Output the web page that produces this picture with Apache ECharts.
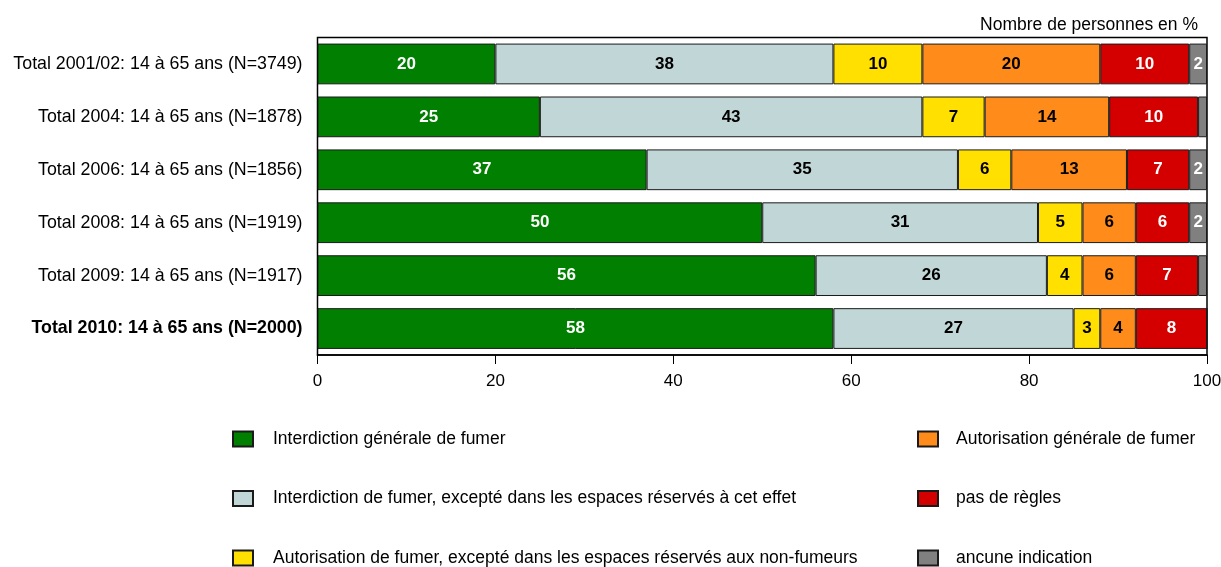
<!DOCTYPE html>
<html>
<head>
<meta charset="utf-8">
<script src="https://cdn.jsdelivr.net/npm/echarts@6/dist/echarts.min.js"></script>
<style>html,body{margin:0;padding:0;background:#fff;}#c{width:1221px;height:567px;}</style>
</head>
<body>
<div id="c"></div>
<script>
const categories = [
  "Total 2001/02: 14 à 65 ans (N=3749)",
  "Total 2004: 14 à 65 ans (N=1878)",
  "Total 2006: 14 à 65 ans (N=1856)",
  "Total 2008: 14 à 65 ans (N=1919)",
  "Total 2009: 14 à 65 ans (N=1917)",
  "Total 2010: 14 à 65 ans (N=2000)"
];
const seriesNames = [
  "Interdiction générale de fumer",
  "Interdiction de fumer, excepté dans les espaces réservés à cet effet",
  "Autorisation de fumer, excepté dans les espaces réservés aux non-fumeurs",
  "Autorisation générale de fumer",
  "pas de règles",
  "ancune indication"
];
const interdictionGenerale = [20, 25, 37, 50, 56, 58];
const interdictionExcepte = [38, 43, 35, 31, 26, 27];
const autorisationExcepte = [10, 7, 6, 5, 4, 3];
const autorisationGenerale = [20, 14, 13, 6, 6, 4];
const pasDeRegles = [10, 10, 7, 6, 7, 8];
const aucuneIndication = [2, 1, 2, 2, 1, 0];
const xTicks = [0, 20, 40, 60, 80, 100];

const values = [interdictionGenerale, interdictionExcepte, autorisationExcepte, autorisationGenerale, pasDeRegles, aucuneIndication];
const colors = ["#007f00", "#c1d7d7", "#ffe000", "#ff8c1a", "#d40000", "#808080"];
const labelColors = ["#fff", "#000", "#000", "#000", "#fff", "#fff"];
const FONT = "'Liberation Sans', Arial, sans-serif";
const FS = 17.5;
const FS_CAT = 17.8;

const chart = echarts.init(document.getElementById('c'));
const series = values.map((v, i) => ({
  name: seriesNames[i],
  type: 'bar',
  stack: 'total',
  data: v,
  barWidth: '77%',
  itemStyle: { color: colors[i], borderColor: '#1a1a1a', borderWidth: 1 },
  label: {
    show: true,
    position: 'inside',
    color: labelColors[i],
    fontFamily: FONT,
    fontWeight: 'bold',
    fontSize: 17,
    formatter: p => (p.value >= 2 ? String(p.value) : '')
  },
  emphasis: { disabled: true }
}));

const legendCommon = {
  orient: 'vertical', top: 430, height: 160, padding: 0,
  itemWidth: 20, itemHeight: 15, itemGap: 41.5,
  icon: 'rect', selectedMode: false
};

chart.setOption({
  animation: false,
  backgroundColor: '#fff',
  title: {
    text: 'Nombre de personnes en %',
    right: 18, top: 11,
    textStyle: { fontFamily: FONT, fontSize: FS, fontWeight: 'normal', color: '#000' }
  },
  grid: {
    left: 317.5, right: 14, top: 37.5, bottom: 212,
    outerBoundsMode: 'none',
    containLabel: false,
    show: true, borderColor: '#000', borderWidth: 1.5, backgroundColor: 'transparent'
  },
  xAxis: {
    type: 'value', min: 0, max: 100, interval: 20,
    axisLine: { show: true, lineStyle: { color: '#000', width: 1.5 } },
    axisTick: { show: true, length: 9, lineStyle: { color: '#000' } },
    splitLine: { show: false },
    axisLabel: {
      fontFamily: FONT, fontSize: 17, color: '#000', margin: 18,
      formatter: v => (xTicks.includes(v) ? String(v) : '')
    }
  },
  yAxis: {
    type: 'category', data: categories, inverse: true,
    axisLine: { show: false }, axisTick: { show: false },
    axisLabel: {
      fontFamily: FONT, fontSize: FS_CAT, color: '#000', margin: 15,
      formatter: (v, i) => (i === categories.length - 1 ? '{b|' + v + '}' : v),
      rich: { b: { fontFamily: FONT, fontSize: FS_CAT, fontWeight: 'bold', color: '#000' } }
    }
  },
  legend: [
    Object.assign({}, legendCommon, {
      data: seriesNames.slice(0, 3), left: 232,
      textStyle: { fontFamily: FONT, fontSize: FS, color: '#000', padding: [0, 0, 0, 15] }
    }),
    Object.assign({}, legendCommon, {
      data: seriesNames.slice(3), left: 917,
      textStyle: { fontFamily: FONT, fontSize: FS, color: '#000', padding: [0, 0, 0, 13] }
    })
  ],
  series: series
});
</script>
</body>
</html>
